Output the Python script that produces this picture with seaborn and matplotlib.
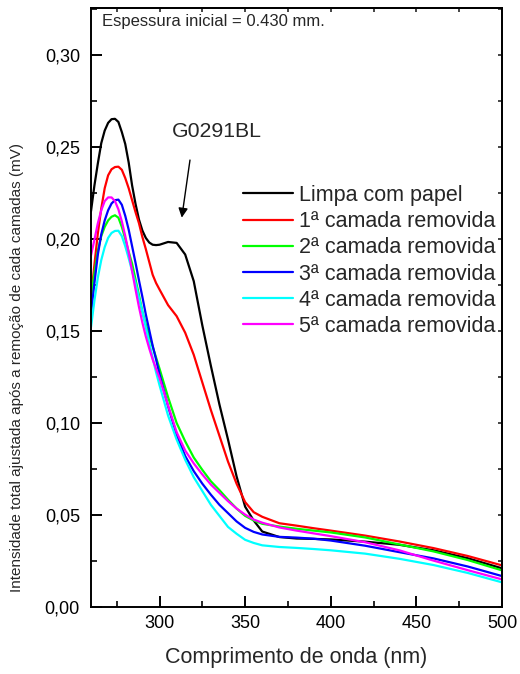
import numpy as np
import pandas as pd
import matplotlib
matplotlib.use("Agg")
import matplotlib.pyplot as plt
import seaborn as sns
from matplotlib.ticker import MultipleLocator, FuncFormatter, NullFormatter

# ---------------- data ----------------
wavelength = [260, 262, 264, 266, 268, 270, 272, 274, 276, 278, 280, 282, 284, 286,
              288, 290, 292, 294, 296, 298, 300, 305, 310, 315, 320, 325, 330, 335,
              340, 345, 350, 355, 360, 370, 380, 390, 400, 420, 440, 460, 480, 500]

limpa = [0.215, 0.229, 0.241, 0.252, 0.2588, 0.263, 0.265, 0.2652, 0.2635, 0.258,
         0.2515, 0.2415, 0.229, 0.219, 0.2105, 0.2045, 0.2005, 0.198, 0.1968, 0.1966,
         0.1968, 0.1983, 0.1978, 0.1915, 0.177, 0.153, 0.131, 0.110, 0.091, 0.071,
         0.0545, 0.047, 0.0410, 0.038, 0.0372, 0.037, 0.0367, 0.0355, 0.0338, 0.0308,
         0.0265, 0.0210]
camada1 = [0.168, 0.186, 0.203, 0.2165, 0.2275, 0.2345, 0.2378, 0.2390, 0.2392, 0.2375,
           0.233, 0.2275, 0.221, 0.2145, 0.2085, 0.201, 0.1945, 0.1875, 0.1805, 0.176,
           0.1725, 0.164, 0.158, 0.149, 0.137, 0.122, 0.107, 0.093, 0.079, 0.067,
           0.057, 0.0515, 0.049, 0.0455, 0.0442, 0.0428, 0.0415, 0.0388, 0.0356, 0.032,
           0.0277, 0.0226]
camada2 = [0.168, 0.1815, 0.1935, 0.2015, 0.2065, 0.2100, 0.2120, 0.2128, 0.2115, 0.2065,
           0.2000, 0.1930, 0.1865, 0.178, 0.1695, 0.1605, 0.1535, 0.1475, 0.1415, 0.1355,
           0.1295, 0.114, 0.100, 0.090, 0.0812, 0.0745, 0.0683, 0.0635, 0.0583, 0.0535,
           0.0495, 0.047, 0.0452, 0.0437, 0.0425, 0.0415, 0.0405, 0.0378, 0.034, 0.0302,
           0.0255, 0.0199]
camada3 = [0.159, 0.176, 0.1915, 0.2025, 0.2100, 0.2155, 0.2192, 0.2210, 0.2213, 0.2185,
           0.2125, 0.205, 0.196, 0.187, 0.1775, 0.1685, 0.159, 0.1505, 0.142, 0.1345,
           0.1265, 0.109, 0.0935, 0.082, 0.0738, 0.067, 0.061, 0.0555, 0.051, 0.0465,
           0.043, 0.0408, 0.0394, 0.0381, 0.0377, 0.0371, 0.0361, 0.0333, 0.0298, 0.0264,
           0.022, 0.0168]
camada4 = [0.152, 0.1665, 0.179, 0.1885, 0.1955, 0.2005, 0.2032, 0.2043, 0.2044, 0.2015,
           0.1960, 0.1895, 0.1825, 0.176, 0.168, 0.1605, 0.152, 0.1435, 0.1355, 0.1275,
           0.1205, 0.104, 0.091, 0.080, 0.0705, 0.063, 0.0555, 0.0495, 0.0435, 0.0398,
           0.0365, 0.0348, 0.0335, 0.0326, 0.0321, 0.0315, 0.0308, 0.029, 0.0262, 0.0228,
           0.0185, 0.0134]
camada5 = [0.191, 0.1995, 0.2085, 0.2155, 0.2205, 0.2225, 0.2225, 0.2205, 0.216, 0.2095,
           0.2015, 0.1925, 0.1825, 0.1725, 0.163, 0.1545, 0.147, 0.1405, 0.1345, 0.1295,
           0.1245, 0.1095, 0.095, 0.085, 0.078, 0.072, 0.0665, 0.062, 0.0575, 0.0535,
           0.0502, 0.0475, 0.0458, 0.0432, 0.0415, 0.040, 0.0385, 0.0352, 0.0308, 0.0252,
           0.020, 0.015]

series_labels = ["Limpa com papel", "1ª camada removida", "2ª camada removida",
                 "3ª camada removida", "4ª camada removida", "5ª camada removida"]
series_values = [limpa, camada1, camada2, camada3, camada4, camada5]
series_colors = ["#000000", "#FF0000", "#00FF00", "#0000FF", "#00FFFF", "#FF00FF"]

x_ticks = [300, 350, 400, 450, 500]
y_ticks = [0.00, 0.05, 0.10, 0.15, 0.20, 0.25, 0.30]

df = pd.DataFrame({
    "wl": np.tile(wavelength, len(series_labels)),
    "val": np.concatenate(series_values),
    "serie": np.repeat(series_labels, len(wavelength)),
})

# ---------------- figure ----------------
sns.set_style("ticks")
plt.rcParams["font.family"] = ["Liberation Sans", "DejaVu Sans"]

W, H = 520, 674
fig = plt.figure(figsize=(W / 100, H / 100), dpi=100)
ax = fig.add_axes([91 / W, 1 - 607 / H, 411 / W, 599 / H])

sns.lineplot(data=df, x="wl", y="val", hue="serie", hue_order=series_labels,
             palette=series_colors, linewidth=1.6, estimator=None, ax=ax)

ax.set_xlim(260, 500)
ax.set_ylim(0, 0.3254)
ax.set_xticks(x_ticks)
ax.set_yticks(y_ticks)
ax.xaxis.set_minor_locator(MultipleLocator(25))
ax.yaxis.set_minor_locator(MultipleLocator(0.025))
ax.yaxis.set_major_formatter(FuncFormatter(lambda v, p: f"{v:.2f}".replace(".", ",")))
ax.tick_params(which="major", direction="in", length=8, width=1.4,
               labelsize=13, top=False, right=False, pad=6, colors="black")
ax.tick_params(which="minor", direction="in", length=4.5, width=1.4,
               top=False, right=False)
ax.tick_params(axis="y", which="major", pad=8)
for s in ax.spines.values():
    s.set_visible(True)
    s.set_linewidth(1.4)
    s.set_color("black")

# small ticks on top/right
secy = ax.secondary_yaxis("right")
secy.yaxis.set_major_locator(MultipleLocator(0.025))
secy.yaxis.set_major_formatter(NullFormatter())
secy.tick_params(direction="in", length=3, width=1.2)
secy.spines["right"].set_linewidth(1.4)
secx = ax.secondary_xaxis("top")
secx.xaxis.set_major_locator(MultipleLocator(25))
secx.xaxis.set_major_formatter(NullFormatter())
secx.tick_params(direction="in", length=3, width=1.2)
secx.spines["top"].set_linewidth(1.4)

ax.set_xlabel("")
ax.set_ylabel("")
fig.text(296.5 / W, 1 - 657 / H, "Comprimento de onda (nm)", ha="center", va="center",
         fontsize=15.5)
fig.text(17 / W, 1 - 368 / H,
         "Intensidade total ajustada após a remoção de cada camadas (mV)",
         rotation=90, ha="center", va="center", fontsize=11)

ax.text(266.2, 0.3183, "Espessura inicial = 0.430 mm.", ha="left", va="center",
        fontsize=12)
ax.text(333.6, 0.2585, "G0291BL", ha="center", va="center", fontsize=15.3)
ax.annotate("", xy=(313.0, 0.2115), xytext=(317.8, 0.2428),
            arrowprops=dict(arrowstyle="-|>", color="black", lw=1.0,
                            mutation_scale=14, shrinkA=0, shrinkB=0))

handles, labs = ax.get_legend_handles_labels()
ax.legend(handles, labs, loc="upper left", bbox_to_anchor=(243 / W, 1 - 185 / H),
          bbox_transform=fig.transFigure, frameon=False, fontsize=15.5,
          handlelength=2.3, handletextpad=0.3, labelspacing=0.24,
          borderpad=0, borderaxespad=0)

fig.savefig("out.png", dpi=100)
